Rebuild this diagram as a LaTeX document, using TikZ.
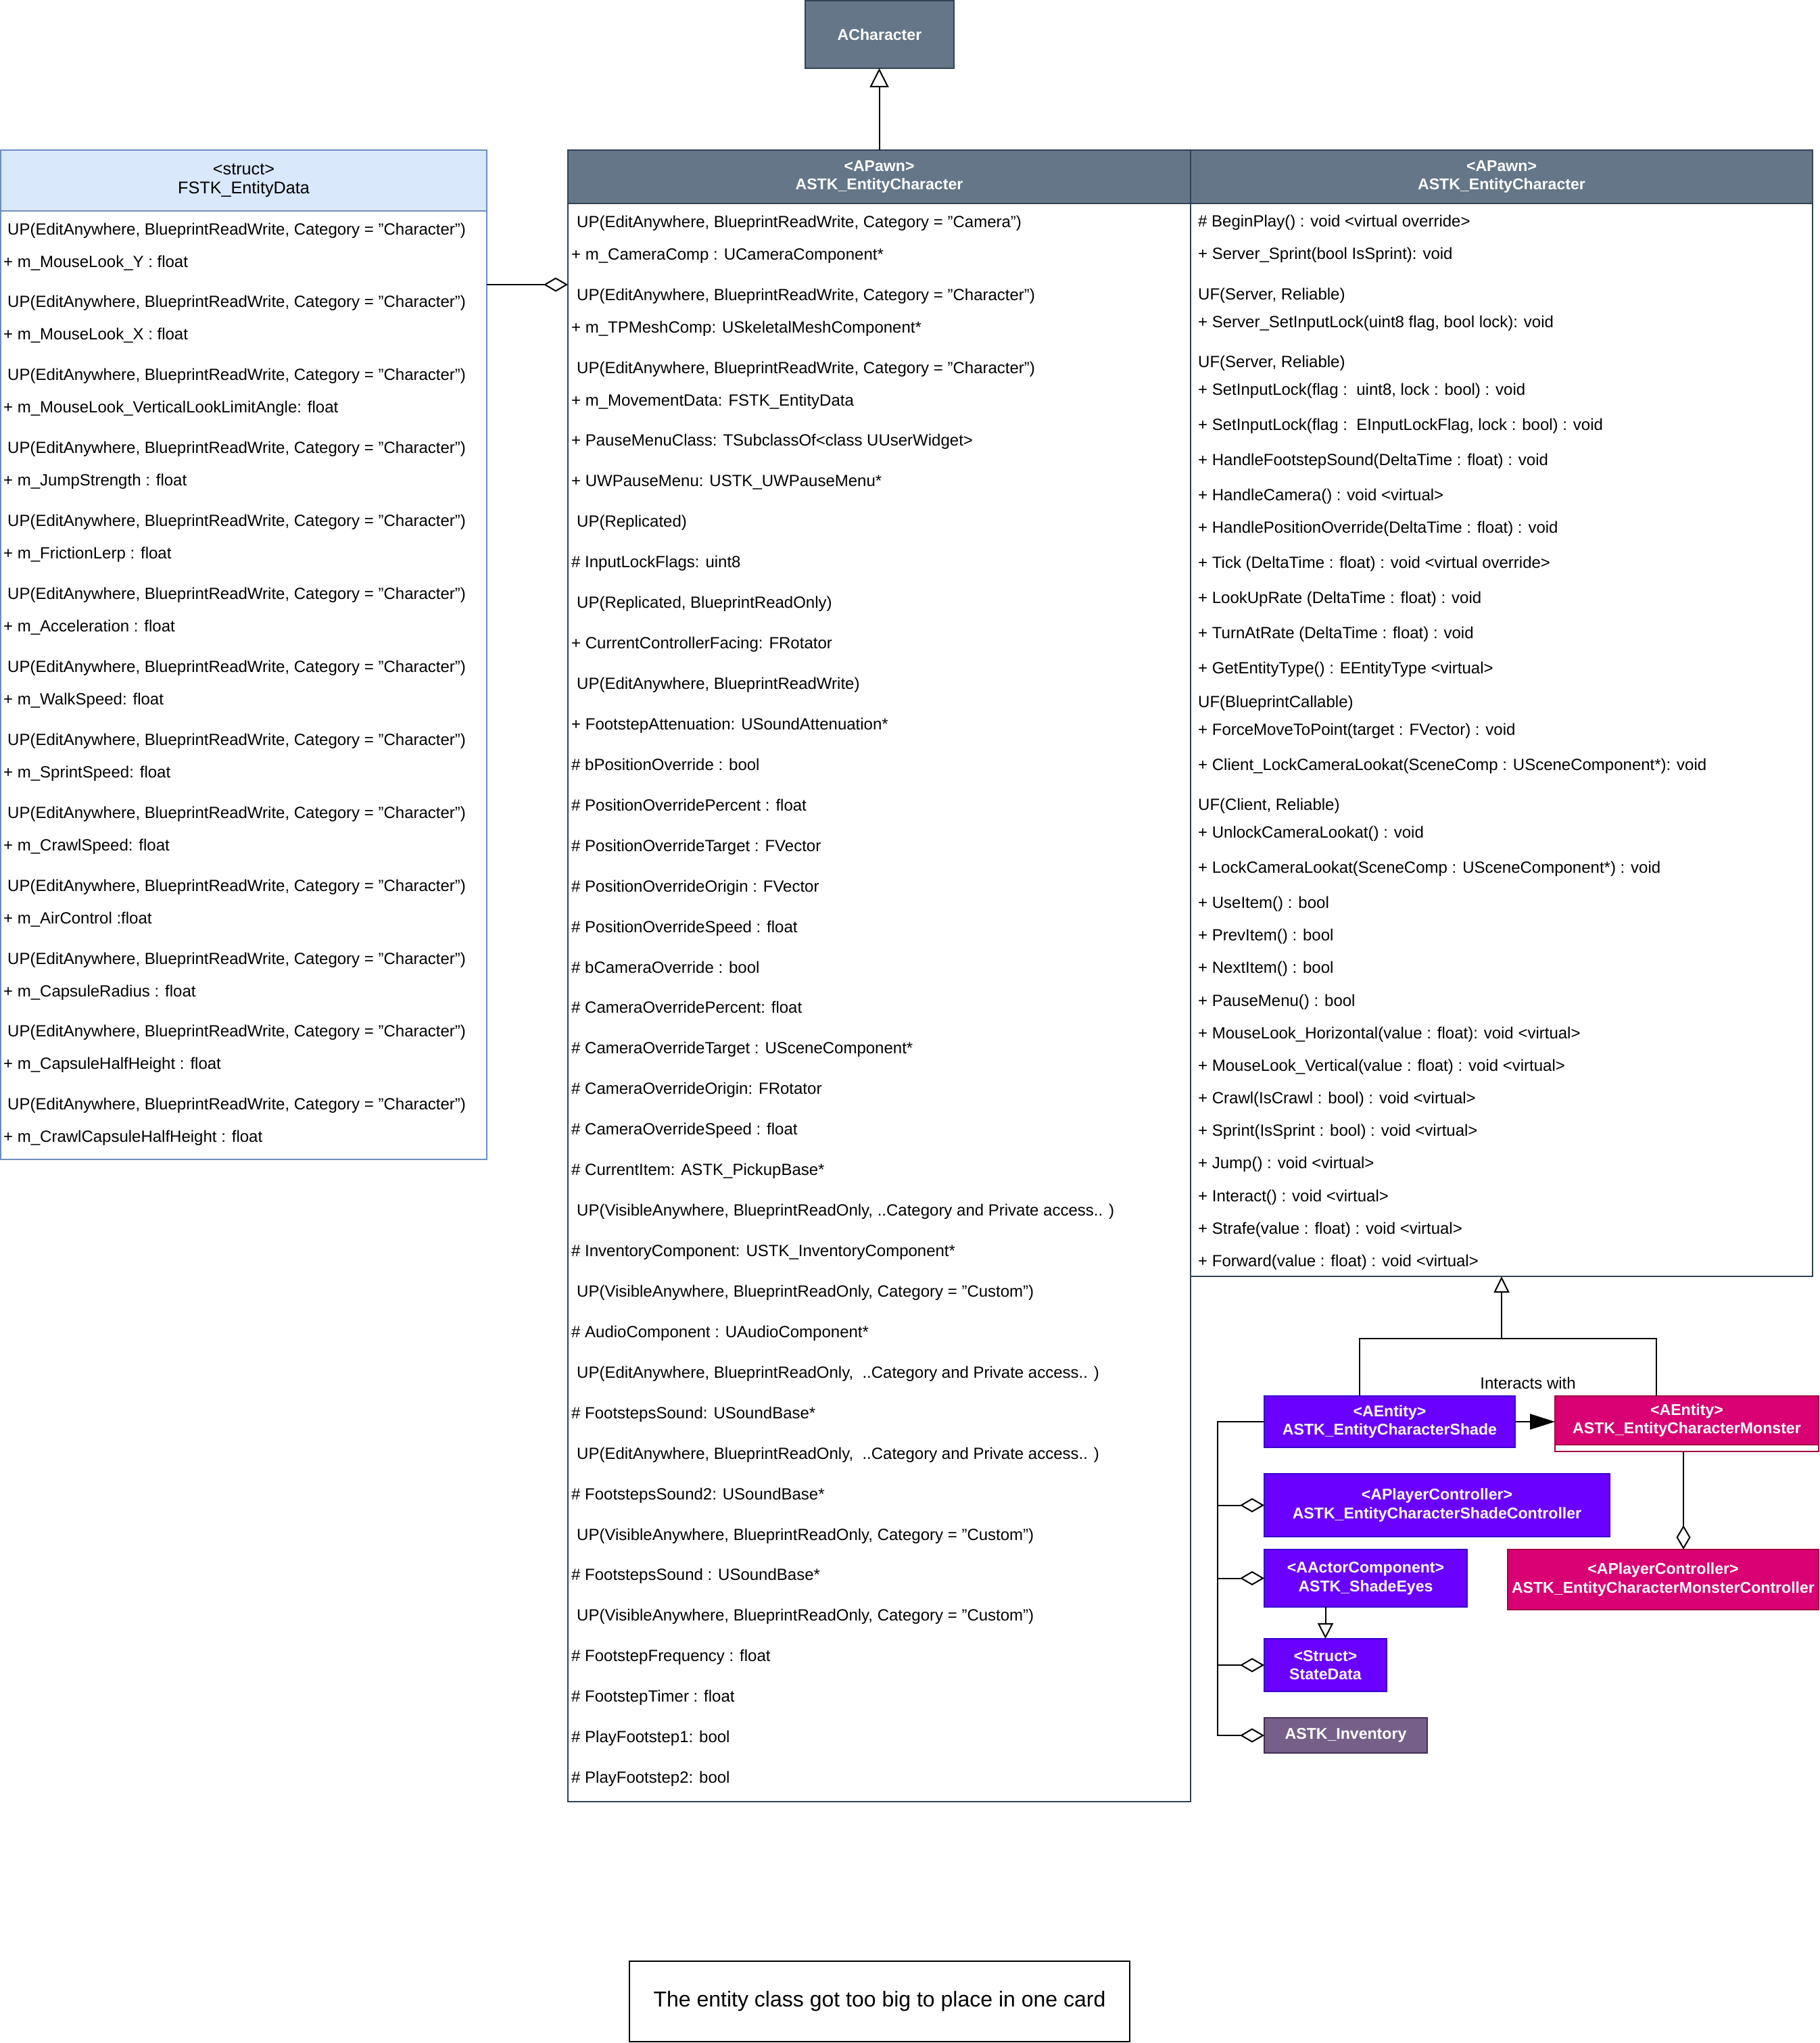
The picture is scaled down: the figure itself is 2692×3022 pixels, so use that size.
\documentclass[tikz,border=0pt]{standalone}
\usepackage{fontspec}
\setmainfont{Liberation Sans}
\usetikzlibrary{arrows.meta,calc}
\definecolor{slate}{HTML}{647687}
\definecolor{slateD}{HTML}{314354}
\definecolor{fstkF}{HTML}{DAE8FC}
\definecolor{fstkD}{HTML}{6C8EBF}
\definecolor{purF}{HTML}{6A00FF}
\definecolor{purD}{HTML}{3700CC}
\definecolor{pinkF}{HTML}{D80073}
\definecolor{pinkD}{HTML}{A50040}
\definecolor{invF}{HTML}{76608A}
\definecolor{invD}{HTML}{432D57}
\newcommand\fsn{\fontsize{24.0}{28.8}\selectfont}
\newcommand\fsh{\fontsize{23.1}{27.7}\selectfont}
\newcommand\fsf{\fontsize{25.2}{27.7}\selectfont}
\newcommand\fsb{\fontsize{32.0}{38}\selectfont}
\newcommand\bx[7]{\node[#6, minimum width={(#4-#2)*1pt}, minimum height={(#5-#3)*1pt}] (#1) at ({(#2+#4)/2},{(#3+#5)/2}) {#7};}
\begin{document}
\begin{tikzpicture}[x=1pt,y=-1pt,
  box/.style={draw, rectangle, inner sep=0pt, outer sep=0pt, align=center, font=\fsn, line width=2pt},
  hdr/.style={box, fill=slate, draw=slateD, text=white, font=\fsh\bfseries},
  body/.style={box, fill=white, draw=slateD},
  purp/.style={box, fill=purF, draw=purD, text=white, font=\fsh\bfseries},
  pink/.style={box, fill=pinkF, draw=pinkD, text=white, font=\fsh\bfseries},
  txt/.style={anchor=base west, inner sep=0pt, font=\fsn},
  conn/.style={draw=black, line width=2pt},
  inhBig/.style={conn, -{Triangle[open,length=28pt,width=28pt]}},
  inhMid/.style={conn, -{Triangle[open,length=24pt,width=23pt]}},
  inhSm/.style={conn, -{Triangle[open,length=23pt,width=23pt]}},
  aggr/.style={conn, -{Diamond[open,length=36pt,width=21pt]}},
  assoc/.style={conn, -{Triangle[length=37pt,width=23pt]}}
]
\fill[white] (0,0) rectangle (2692,3022);
\useasboundingbox (0,0) rectangle (2692,3022);

% ---------- boxes ----------
\bx{ac}{1191}{1}{1411}{101}{hdr}{ACharacter}

\bx{fstkBody}{1}{312}{720}{1715}{box, fill=white, draw=fstkD}{}
\bx{fstkHead}{1}{222}{720}{312}{box, fill=fstkF, draw=fstkD, font=\fsf}{<struct>\\FSTK\_EntityData}

\bx{astkLBody}{840}{301}{1761}{2665}{body}{}
\bx{astkLHead}{840}{222}{1761}{301}{hdr}{<APawn>\\ASTK\_EntityCharacter}

\bx{astkRBody}{1761}{301}{2681}{1888}{body}{}
\bx{astkRHead}{1761}{222}{2681}{301}{hdr}{<APawn>\\ASTK\_EntityCharacter}

\bx{shade}{1870}{2065}{2241}{2141}{purp}{<AEntity>\\ASTK\_EntityCharacterShade}
\bx{monsterBody}{2300}{2137}{2690}{2147}{box, fill=white, draw=pinkD}{}
\bx{monsterHead}{2300}{2065}{2690}{2137}{pink}{<AEntity>\\ASTK\_EntityCharacterMonster}
\bx{shadeCtrl}{1870}{2180}{2381}{2273}{purp}{<APlayerController>\\ASTK\_EntityCharacterShadeController}
\bx{eyes}{1870}{2292}{2170}{2377}{purp}{<AActorComponent>\\ASTK\_ShadeEyes}
\bx{mctrl}{2230}{2292}{2690}{2381}{pink}{<APlayerController>\\ASTK\_EntityCharacterMonsterController}
\bx{stateData}{1870}{2424}{2051}{2502}{purp}{<Struct>\\StateData}
\bx{inventory}{1870}{2541}{2111}{2593}{box, fill=invF, draw=invD, text=white, font=\fsh\bfseries}{ASTK\_Inventory}

\bx{note}{931}{2901}{1671}{3020}{box, fill=white, draw=black, font=\fsb}{The entity class got too big to place in one card}

% ---------- FSTK rows ----------
\foreach \t [count=\i from 0] in {
  {m\_MouseLook\_Y : float},
  {m\_MouseLook\_X : float},
  {m\_MouseLook\_VerticalLookLimitAngle: float},
  {m\_JumpStrength : float},
  {m\_FrictionLerp : float},
  {m\_Acceleration : float},
  {m\_WalkSpeed: float},
  {m\_SprintSpeed: float},
  {m\_CrawlSpeed: float},
  {m\_AirControl :float},
  {m\_CapsuleRadius : float},
  {m\_CapsuleHalfHeight : float},
  {m\_CrawlCapsuleHalfHeight : float}} {
  \node[txt] (fu\i) at (11,{339+107.9*\i+8}) {UP(EditAnywhere, BlueprintReadWrite, Category = "Character")};
  \node[txt] (fm\i) at (5,{387+107.9*\i+8}) {+ \t};
}

% ---------- ASTK left rows ----------
\node[txt] (la) at (853,336) {UP(EditAnywhere, BlueprintReadWrite, Category = "Camera")};
\node[txt] (lb) at (845,384) {+ m\_CameraComp : UCameraComponent*};
\node[txt] (lc) at (853,444) {UP(EditAnywhere, BlueprintReadWrite, Category = "Character")};
\node[txt] (ld) at (845,492) {+ m\_TPMeshComp: USkeletalMeshComponent*};
\node[txt] (le) at (853,552) {UP(EditAnywhere, BlueprintReadWrite, Category = "Character")};
\node[txt] (lf) at (845,600) {+ m\_MovementData: FSTK\_EntityData};
\fill[black!4] (845,1835) rectangle (1100,1860);
\foreach \x/\t [count=\n] in {
  845/{+ PauseMenuClass: TSubclassOf<class UUserWidget>},
  845/{+ UWPauseMenu: USTK\_UWPauseMenu*},
  853/{UP(Replicated)},
  845/{\# InputLockFlags: uint8},
  853/{UP(Replicated, BlueprintReadOnly)},
  845/{+ CurrentControllerFacing: FRotator},
  853/{UP(EditAnywhere, BlueprintReadWrite)},
  845/{+ FootstepAttenuation: USoundAttenuation*},
  845/{\# bPositionOverride : bool},
  845/{\# PositionOverridePercent : float},
  845/{\# PositionOverrideTarget : FVector},
  845/{\# PositionOverrideOrigin : FVector},
  845/{\# PositionOverrideSpeed : float},
  845/{\# bCameraOverride : bool},
  845/{\# CameraOverridePercent: float},
  845/{\# CameraOverrideTarget : USceneComponent*},
  845/{\# CameraOverrideOrigin: FRotator},
  845/{\# CameraOverrideSpeed : float},
  845/{\# CurrentItem: ASTK\_PickupBase*},
  853/{UP(VisibleAnywhere, BlueprintReadOnly, ..Category and Private access.. )},
  845/{\# InventoryComponent: USTK\_InventoryComponent*},
  853/{UP(VisibleAnywhere, BlueprintReadOnly, Category = "Custom")},
  845/{\# AudioComponent : UAudioComponent*},
  853/{UP(EditAnywhere, BlueprintReadOnly,\ \ ..Category and Private access.. )},
  845/{\# FootstepsSound: USoundBase*},
  853/{UP(EditAnywhere, BlueprintReadOnly,\ \ ..Category and Private access.. )},
  845/{\# FootstepsSound2: USoundBase*},
  853/{UP(VisibleAnywhere, BlueprintReadOnly, Category = "Custom")},
  845/{\# FootstepsSound : USoundBase*},
  853/{UP(VisibleAnywhere, BlueprintReadOnly, Category = "Custom")},
  845/{\# FootstepFrequency : float},
  845/{\# FootstepTimer : float},
  845/{\# PlayFootstep1: bool},
  845/{\# PlayFootstep2: bool}} {
  \node[txt] (l\n) at (\x,{592+59.93*\n+8}) {\t};
}

% ---------- ASTK right rows ----------
\foreach \y/\t [count=\n] in {
  327.6/{\# BeginPlay() : void <virtual override>},
  375.8/{+ Server\_Sprint(bool IsSprint): void},
  435.5/{UF(Server, Reliable)},
  476/{+ Server\_SetInputLock(uint8 flag, bool lock): void},
  535.7/{UF(Server, Reliable)},
  576.2/{+ SetInputLock(flag :\ \ uint8, lock : bool) : void},
  628.2/{+ SetInputLock(flag :\ \ EInputLockFlag, lock : bool) : void},
  680.2/{+ HandleFootstepSound(DeltaTime : float) : void},
  732.3/{+ HandleCamera() : void <virtual>},
  780.4/{+ HandlePositionOverride(DeltaTime : float) : void},
  832.5/{+ Tick (DeltaTime : float) : void <virtual override>},
  884.5/{+ LookUpRate (DeltaTime : float) : void},
  936.5/{+ TurnAtRate (DeltaTime : float) : void},
  988.6/{+ GetEntityType() : EEntityType <virtual>},
  1038.7/{UF(BlueprintCallable)},
  1079/{+ ForceMoveToPoint(target : FVector) : void},
  1131/{+ Client\_LockCameraLookat(SceneComp : USceneComponent*): void},
  1190.9/{UF(Client, Reliable)},
  1231.4/{+ UnlockCameraLookat() : void},
  1283.4/{+ LockCameraLookat(SceneComp : USceneComponent*) : void},
  1335.4/{+ UseItem() : bool},
  1383.6/{+ PrevItem() : bool},
  1431.8/{+ NextItem() : bool},
  1480/{+ PauseMenu() : bool},
  1528/{+ MouseLook\_Horizontal(value : float): void <virtual>},
  1576/{+ MouseLook\_Vertical(value : float) : void <virtual>},
  1624.5/{+ Crawl(IsCrawl : bool) : void <virtual>},
  1672.6/{+ Sprint(IsSprint : bool) : void <virtual>},
  1720.8/{+ Jump() : void <virtual>},
  1769/{+ Interact() : void <virtual>},
  1817/{+ Strafe(value : float) : void <virtual>},
  1865/{+ Forward(value : float) : void <virtual>}} {
  \node[txt] (r\n) at (1772,{\y+8}) {\t};
}

% ---------- connectors ----------
\draw[inhBig] (astkLHead.north) -- (astkLHead.north |- ac.south);

\coordinate (aggY) at (0,421);
\draw[aggr] (fstkBody.east |- aggY) -- (astkLBody.west |- aggY);

\coordinate (jn) at (2221,1980);
\draw[conn] ($(shade.north)+(-44.5,0)$) |- (jn) -| ($(monsterHead.north)+(-45,0)$);
\draw[inhMid] (jn) -- (astkRBody.south);
\node[inner sep=0pt, font=\fsn] (lblInteracts) at (2260,2046) {Interacts with};

\draw[assoc] (shade.east) -- (monsterHead.west |- shade.east);

\draw[aggr] ($(monsterBody.south)+(-5,0)$) -- ($(monsterBody.south |- mctrl.north)+(-5,0)$);

\draw[aggr] (shade.west) -| ($(inventory.west)+(-69,0)$) -- (inventory.west);
\draw[aggr] ($(shadeCtrl.west)+(-69,0)$) -- (shadeCtrl.west);
\draw[aggr] ($(eyes.west)+(-69,0)$) -- (eyes.west);
\draw[aggr] ($(stateData.west)+(-69,0)$) -- (stateData.west);

\draw[inhSm] (stateData.north |- eyes.south) -- (stateData.north);
\end{tikzpicture}
\end{document}
